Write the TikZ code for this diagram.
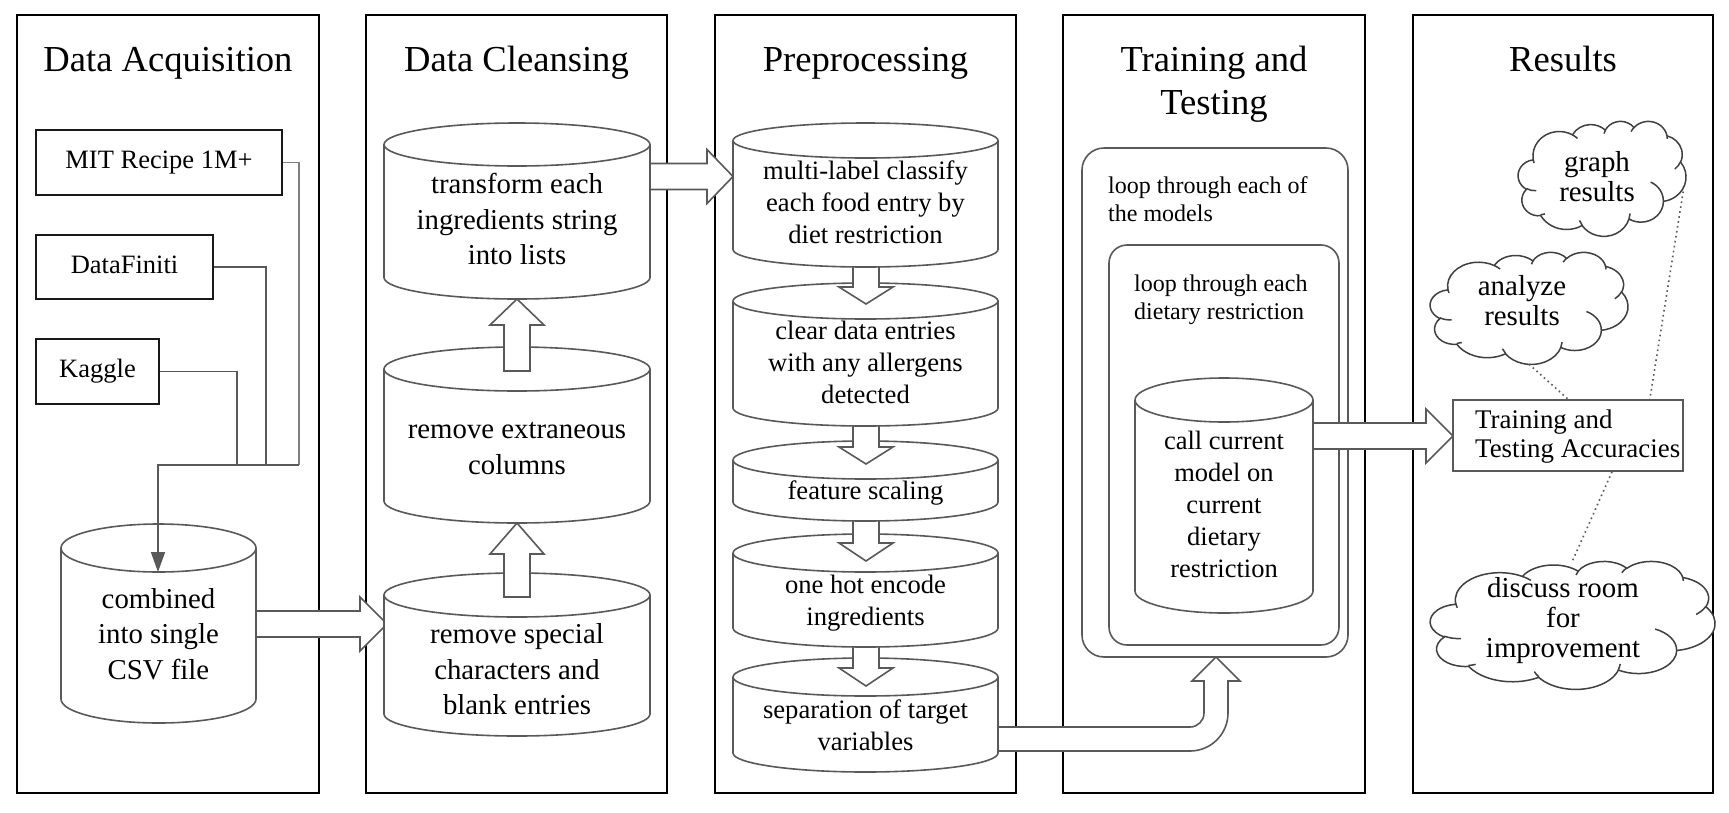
\documentclass[tikz,border=0pt]{standalone}
\usepackage{fontspec}
\setmainfont{Liberation Serif}
\usetikzlibrary{arrows.meta,calc}
\definecolor{lg}{RGB}{89,89,89}
\definecolor{lg2}{RGB}{128,128,128}
\definecolor{cg}{RGB}{64,64,64}
\newcommand\fT{\fontsize{36.6pt}{43pt}\selectfont}
\newcommand\fS{\fontsize{26.5pt}{32pt}\selectfont}
\newcommand\fA{\fontsize{28.8pt}{35.5pt}\selectfont}
\newcommand\fB{\fontsize{26.6pt}{32pt}\selectfont}
\newcommand\fL{\fontsize{24pt}{27.7pt}\selectfont}
\newcommand\fR{\fontsize{26.9pt}{28.5pt}\selectfont}
\newcommand\fC{\fontsize{28.9pt}{30pt}\selectfont}
% cylinder: x1, ytop, x2, ybot, ry  (pixel coordinates, y downward)
\newcommand\cyl[5]{%
  \filldraw[cylst] (#1,-#2-#5) -- (#1,-#4+#5)
    arc[start angle=180,end angle=360,x radius={(#3-#1)/2},y radius=#5]
    -- (#3,-#2-#5)
    arc[start angle=0,end angle=180,x radius={(#3-#1)/2},y radius=#5] -- cycle;
  \draw[cylst,fill=none] (#1,-#2-#5)
    arc[start angle=180,end angle=360,x radius={(#3-#1)/2},y radius=#5];}
% horizontal block arrow: x start, x head base, x tip, y centre
\newcommand\harrow[4]{%
  \filldraw[blk] (#1,-#4+13) -- (#2,-#4+13) -- (#2,-#4+27) -- (#3,-#4)
    -- (#2,-#4-27) -- (#2,-#4-13) -- (#1,-#4-13) -- cycle;}
% vertical block arrow: x centre, y start, y head base, y tip
\newcommand\varrow[4]{%
  \filldraw[blk] (#1-13,-#2) -- (#1-13,-#3) -- (#1-27,-#3) -- (#1,-#4)
    -- (#1+27,-#3) -- (#1+13,-#3) -- (#1+13,-#2) -- cycle;}
% elliptic arc given by visual angles (office style): name, wR, hR, start, sweep
\newcommand\defarc[5]{%
  \pgfmathsetmacro\tmpA{atan2(#2*sin(#4),#3*cos(#4))}%
  \pgfmathsetmacro\tmpB{atan2(#2*sin(#4+#5),#3*cos(#4+#5))}%
  \pgfmathsetmacro\tmpD{\tmpB-\tmpA}%
  \pgfmathsetmacro\tmpD{\tmpD<0 ? \tmpD+360 : \tmpD}%
  \expandafter\xdef\csname oa#1\endcsname{arc[start angle=\tmpA, delta angle=\tmpD, x radius=#2, y radius=#3]}}
\newcommand\oa[1]{\csname oa#1\endcsname}
% cloud: left, top, width, height (pixels)
\newcommand\ocloud[4]{%
  \pgfmathsetmacro\cw{#3/4320}\pgfmathsetmacro\ch{#4/4320}%
  \begin{scope}[shift={(#1,-#2)},x=\cw pt,y=-\ch pt]
  \filldraw[cloudst] (390,1437) \oa{a}\oa{b}\oa{c}\oa{d}\oa{e}\oa{f}\oa{g}\oa{h}\oa{i}\oa{j}\oa{k} -- cycle;
  \draw[cloudst,fill=none] (469.3,2617.7) \oa{p} (692.8,3489.9) \oa{q}
    (1647.8,3909.0) \oa{r} (2882.7,3475.1) \oa{s} (3412.9,2295.4) \oa{t}
    (4179.8,1535.4) \oa{u} (3832.4,542.6) \oa{v} (2907.8,395.2) \oa{w}
    (2214.1,472.0) \oa{x} (1400.0,519.2) \oa{y} (412.7,1578.9) \oa{z};
  \end{scope}}
\begin{document}
\begin{tikzpicture}[x=1pt,y=1pt,
  panel/.style={draw=black,line width=2pt},
  title/.style={font=\fT,anchor=base,align=center,inner sep=0pt},
  src/.style={draw=black!90,line width=1.8pt,font=\fS,inner sep=0pt,
    text height=18pt,text depth=5.8pt},
  cylst/.style={draw=lg,fill=white,line width=1.6pt},
  blk/.style={draw=lg,fill=white,line width=1.6pt,line join=miter},
  conn/.style={draw=lg,line width=1.6pt},
  ctext/.style={anchor=base,align=center,inner sep=0pt},
  ltext/.style={anchor=base west,align=left,inner sep=0pt},
  loopbox/.style={draw=lg,line width=1.6pt},
  cloudst/.style={draw=cg,fill=white,line width=1.5pt},
  dotl/.style={draw=lg,line width=1.6pt,dash pattern=on 1.6pt off 3.4pt}]
\defarc{a}{675.3}{919.0}{-190.4875}{123.7805}
\defarc{b}{533.3}{726.7}{-144.1024}{89.9452}
\defarc{c}{436.5}{594.5}{-145.8079}{99.7230}
\defarc{d}{485.7}{659.5}{-130.9861}{117.2417}
\defarc{e}{533.3}{727.3}{-78.7089}{109.0269}
\defarc{f}{677.5}{922.0}{-46.2673}{130.2690}
\defarc{g}{578.5}{786.7}{0.6250}{114.0333}
\defarc{h}{675.2}{921.5}{22.4516}{115.1726}
\defarc{i}{772.0}{1054.3}{66.2426}{74.8854}
\defarc{j}{436.0}{591.8}{-274.9421}{146.7356}
\defarc{k}{434.5}{594.5}{-246.8285}{152.5189}
\defarc{p}{434.5}{594.5}{86.742}{26.4295}
\defarc{q}{436.0}{591.8}{73.6105}{11.4475}
\defarc{r}{675.2}{921.5}{137.6242}{14.0811}
\defarc{s}{675.2}{921.5}{6.4533}{15.9984}
\defarc{t}{578.5}{786.7}{-70.2924}{70.9174}
\defarc{u}{533.3}{727.3}{30.3180}{27.7515}
\defarc{v}{485.7}{659.5}{-13.7443}{14.8589}
\defarc{w}{485.7}{659.5}{-149.1815}{18.1954}
\defarc{x}{436.5}{594.5}{-163.4943}{17.6864}
\defarc{y}{675.3}{919.0}{-66.7070}{12.3194}
\defarc{z}{675.3}{919.0}{157.6544}{11.8582}
\useasboundingbox (0,0) rectangle (1729,-812);
\fill[white] (0,0) rectangle (1729,-812);

% panels
\draw[panel] (17,-15) rectangle (319,-793);
\draw[panel] (366,-15) rectangle (667,-793);
\draw[panel] (715,-15) rectangle (1016,-793);
\draw[panel] (1063,-15) rectangle (1365,-793);
\draw[panel] (1413,-15) rectangle (1713,-793);

\node[title] (t1) at (168,-71.5) {Data Acquisition};
\node[title] (t2) at (516.5,-71.5) {Data Cleansing};
\node[title] (t3) at (865.5,-71.5) {Preprocessing};
\node[title] (t4) at (1214,-114.5) {Training and\\Testing};
\node[title] (t5) at (1563,-71.5) {Results};

% ---------- Data acquisition
\node[src,minimum width=246pt,minimum height=65pt] (mit) at (159,-162.5) {MIT Recipe 1M+};
\node[src,minimum width=177pt,minimum height=64pt] (df) at (124.5,-267) {DataFiniti};
\node[src,minimum width=123pt,minimum height=65pt] (kg) at (97.5,-371.5) {Kaggle};
\coordinate (jm) at (299,-465);
\coordinate (jd) at (266,-465);
\coordinate (jk) at (237,-465);
\coordinate (j) at (158,-465);
\coordinate (combtop) at (158,-572);

% block arrows crossing panels
\harrow{250}{360}{387}{624}
\harrow{644}{707}{733}{176.5}

\cyl{61}{524}{256}{723}{24}
\node[ctext,font=\fA] (comb) at (158.5,-679) {combined\\into single\\CSV file};

\draw[conn,draw=lg2] (mit.east) -| (jm);
\draw[conn] (df.east) -| (jd);
\draw[conn] (kg.east) -| (jk);
\draw[conn,-{Triangle[length=20pt,width=14pt]}] (jm) -- (j) -- (combtop);

% ---------- Data cleansing
\cyl{384}{573}{650}{736}{22}
\varrow{517}{597}{554}{523}
\cyl{384}{347}{650}{523}{22}
\varrow{517}{371}{325}{299}
\cyl{384}{123}{650}{299}{21.5}
\node[ctext,font=\fA] (tr) at (517,-264.5) {transform each\\ingredients string\\into lists};
\node[ctext,font=\fA] (rex) at (517,-474) {remove extraneous\\columns};
\node[ctext,font=\fA] (rsp) at (517,-714.5) {remove special\\characters and\\blank entries};

% ---------- Training & testing boxes
\draw[loopbox,rounded corners=22pt] (1082,-148) rectangle (1348,-657);
\draw[loopbox,rounded corners=18pt] (1109,-245) rectangle (1339,-645);
\node[ltext,font=\fL] (lm) at (1108,-221.4) {loop through each of\\the models};
\node[ltext,font=\fL] (ld) at (1134,-319.1) {loop through each\\dietary restriction};

% bent arrow from preprocessing to training
\filldraw[blk] (990,-727) -- (1190,-727) arc[start angle=270,end angle=360,radius=14]
  -- (1204,-681) -- (1192,-681) -- (1216,-657) -- (1240,-681) -- (1228,-681)
  -- (1228,-713) arc[start angle=0,end angle=-90,radius=38] -- (990,-751) -- cycle;

% ---------- Preprocessing
\cyl{733}{658}{998}{772}{19}
\varrow{866}{642}{668}{686}
\cyl{733}{534}{998}{647}{19}
\varrow{866}{516}{543}{561}
\cyl{733}{441}{998}{521}{19}
\varrow{866}{420}{447}{464}
\cyl{733}{283}{998}{426}{18}
\varrow{866}{262}{287}{304}
\cyl{733}{123}{998}{267}{17.5}
\node[ctext,font=\fB] (p1) at (865.5,-243) {multi-label classify\\each food entry by\\diet restriction};
\node[ctext,font=\fB] (p2) at (865.5,-403) {clear data entries\\with any allergens\\detected};
\node[ctext,font=\fB] (p3) at (865.5,-499) {feature scaling};
\node[ctext,font=\fB] (p4) at (865.5,-625) {one hot encode\\ingredients};
\node[ctext,font=\fB] (p5) at (865.5,-750) {separation of target\\variables};

% ---------- call model -> results
\harrow{1305}{1426}{1453}{436}
\cyl{1135}{378}{1313}{613}{22}
\node[ctext,font=\fS] (call) at (1224,-577) {call current\\model on\\current\\dietary\\restriction};

% ---------- Results
\node[draw=lg,line width=1.6pt,minimum width=230pt,minimum height=71pt,inner sep=0pt] (train) at (1568,-435.5) {};
\node[ltext,font=\fR] (trt) at (1475,-457.1) {Training and\\Testing Accuracies};

\ocloud{1518}{121}{168}{115}
\ocloud{1430}{252}{198}{112}
\ocloud{1430}{561}{285}{128}
\node[inner sep=0pt,minimum width=168pt,minimum height=115pt] (graph) at (1602,-178.5) {};
\node[inner sep=0pt,minimum width=198pt,minimum height=112pt] (anal) at (1529,-308) {};
\node[inner sep=0pt,minimum width=285pt,minimum height=128pt] (disc) at (1572.5,-625) {};
\node[ctext,font=\fC] (graphT) at (1597,-201.5) {graph\\results};
\node[ctext,font=\fC] (analT) at (1522,-325.5) {analyze\\results};
\node[ctext,font=\fC] (discT) at (1563,-657.5) {discuss room\\for\\improvement};

\draw[dotl] (anal.south) -- (train.north);
\draw[dotl] ($(graph.east)+(-3,-13)$) -- ($(train.north east)+(-34,0)$);
\draw[dotl] ($(train.south)+(44,0)$) -- (disc.north);
\end{tikzpicture}
\end{document}
